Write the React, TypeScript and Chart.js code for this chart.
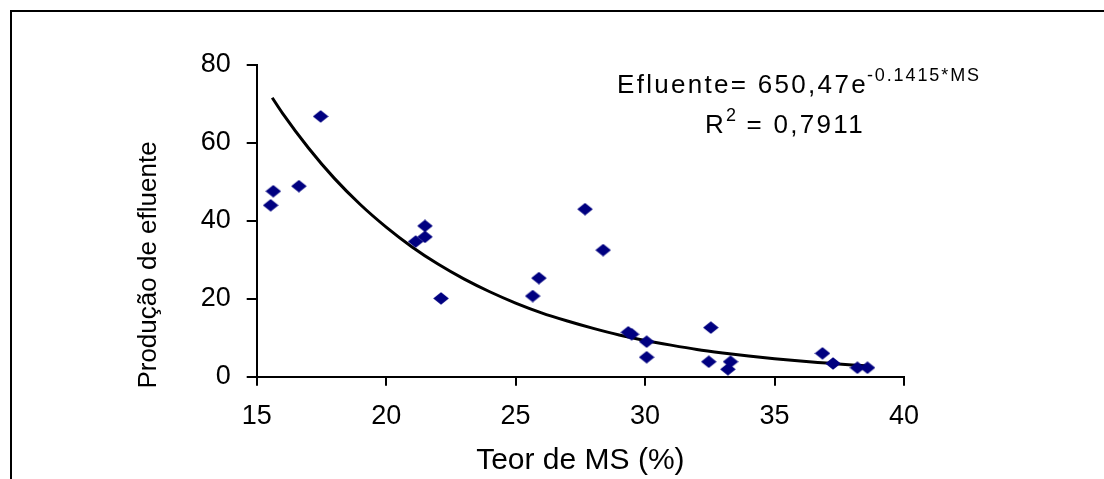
import { useEffect, useRef } from 'react';
import { Chart, registerables } from 'chart.js';

Chart.register(...registerables);

const msContent = [15.54, 15.64, 16.63, 17.47, 21.14, 21.5, 21.5, 22.12, 25.66, 25.9, 27.68, 28.38, 29.35, 29.48, 30.06, 30.06, 32.46, 32.54, 33.2, 33.3, 36.85, 37.26, 38.2, 38.59];
const effluent = [44.0, 47.6, 48.9, 66.8, 34.7, 35.9, 38.7, 20.1, 20.7, 25.3, 43.0, 32.5, 11.4, 10.9, 9.0, 5.0, 3.85, 12.6, 1.9, 3.85, 6.0, 3.4, 2.3, 2.3];

// Trend line
const trendMs = [15.6, 16, 17, 18, 19, 20, 21, 22, 23, 24, 25, 26, 27, 28, 29, 30, 31, 32, 33, 34, 35, 36, 37, 38, 38.5];
const trendEffluent = [71.6, 67.6, 58.7, 50.9, 44.2, 38.4, 33.3, 28.9, 25.1, 21.8, 18.9, 16.4, 14.3, 12.4, 10.7, 9.3, 8.1, 7.0, 6.1, 5.3, 4.6, 4.0, 3.5, 3.0, 2.8];

const xTicks = [15, 20, 25, 30, 35, 40];
const yTicks = [0, 20, 40, 60, 80];

const xTitle = 'Teor de MS (%)';
const yTitle = 'Produção de efluente';
const eqMain = 'Efluente= 650,47e';
const eqExp = '-0.1415*MS';
const r2Main = 'R';
const r2Sup = '2';
const r2Value = ' = 0,7911';

const FONT = '"Liberation Sans", Arial, sans-serif';
const W = 1104;
const H = 479;

function makeDiamond(): HTMLCanvasElement {
  const c = document.createElement('canvas');
  c.width = 16;
  c.height = 13;
  const g = c.getContext('2d')!;
  g.fillStyle = '#000080';
  g.beginPath();
  g.moveTo(8, 0.2);
  g.lineTo(15.8, 6.5);
  g.lineTo(8, 12.8);
  g.lineTo(0.2, 6.5);
  g.closePath();
  g.fill();
  return c;
}

const decorPlugin = {
  id: 'decor',
  afterDraw(chart: any) {
    const ctx: CanvasRenderingContext2D = chart.ctx;
    ctx.save();
    // outer frame (top and left edges visible)
    ctx.strokeStyle = '#000';
    ctx.lineWidth = 2;
    ctx.beginPath();
    ctx.moveTo(W, 11);
    ctx.lineTo(11, 11);
    ctx.lineTo(11, H);
    ctx.stroke();

    ctx.fillStyle = '#000';
    // y-axis title
    ctx.save();
    ctx.translate(149, 265);
    ctx.rotate(-Math.PI / 2);
    ctx.font = `26px ${FONT}`;
    ctx.textAlign = 'center';
    ctx.textBaseline = 'middle';
    ctx.fillText(yTitle, 0, 0);
    ctx.restore();

    // equation
    const anyCtx = ctx as any;
    ctx.textAlign = 'left';
    ctx.textBaseline = 'alphabetic';
    anyCtx.letterSpacing = '2.3px';
    ctx.font = `26px ${FONT}`;
    ctx.fillText(eqMain, 617, 93);
    const w1 = ctx.measureText(eqMain).width;
    anyCtx.letterSpacing = '1.9px';
    ctx.font = `18px ${FONT}`;
    ctx.fillText(eqExp, 617 + w1 - 1, 81);

    anyCtx.letterSpacing = '2.3px';
    ctx.font = `26px ${FONT}`;
    ctx.fillText(r2Main, 705, 133);
    const wr = ctx.measureText(r2Main).width;
    anyCtx.letterSpacing = '1.9px';
    ctx.font = `18px ${FONT}`;
    ctx.fillText(r2Sup, 705 + wr, 121);
    const ws = ctx.measureText(r2Sup).width;
    anyCtx.letterSpacing = '2.3px';
    ctx.font = `26px ${FONT}`;
    ctx.fillText(r2Value, 705 + wr + ws - 1, 133);
    anyCtx.letterSpacing = '0px';
    ctx.restore();
  },
};

export default function App() {
  const ref = useRef<HTMLCanvasElement>(null);

  useEffect(() => {
    if (!ref.current) return;
    const diamond = makeDiamond();
    const chart = new Chart(ref.current, {
      type: 'scatter',
      data: {
        datasets: [
          {
            label: 'Efluente',
            data: msContent.map((x, i) => ({ x, y: effluent[i] })),
            pointStyle: diamond as any,
            pointRadius: 7,
            backgroundColor: '#000080',
            borderWidth: 0,
          },
          {
            label: 'Tendência',
            data: trendMs.map((x, i) => ({ x, y: trendEffluent[i] })),
            showLine: true,
            borderColor: '#000',
            borderWidth: 3,
            pointRadius: 0,
            cubicInterpolationMode: 'monotone',
            fill: false,
          } as any,
        ],
      },
      options: {
        animation: false,
        responsive: false,
        devicePixelRatio: 1,
        layout: { padding: { left: 0, top: 65, right: 200, bottom: 0 } },
        plugins: { legend: { display: false }, tooltip: { enabled: false } },
        scales: {
          x: {
            type: 'linear',
            min: 15,
            max: 40,
            afterBuildTicks: (s: any) => {
              s.ticks = xTicks.map((v) => ({ value: v }));
            },
            afterFit: (s: any) => {
              s.height = H - 376.7;
            },
            grid: { drawOnChartArea: false, drawTicks: true, tickLength: 9, color: '#000', lineWidth: 2 },
            border: { display: true, color: '#000', width: 2 },
            ticks: { font: { family: FONT, size: 27 }, color: '#000', padding: 15, maxRotation: 0, autoSkip: false },
            title: { display: true, text: xTitle, font: { family: FONT, size: 30 }, color: '#000', padding: { top: 0, bottom: 0 } },
          },
          y: {
            type: 'linear',
            min: 0,
            max: 80,
            afterBuildTicks: (s: any) => {
              s.ticks = yTicks.map((v) => ({ value: v }));
            },
            afterFit: (s: any) => {
              s.width = 256.7;
            },
            grid: { drawOnChartArea: false, drawTicks: true, tickLength: 10, color: '#000', lineWidth: 2 },
            border: { display: true, color: '#000', width: 2 },
            ticks: { font: { family: FONT, size: 27 }, color: '#000', padding: 16, autoSkip: false },
          },
        },
      },
      plugins: [decorPlugin],
    });
    return () => chart.destroy();
  }, []);

  return (
    <div style={{ position: 'absolute', left: 0, top: 0, width: W, height: H, background: '#fff' }}>
      <canvas ref={ref} width={W} height={H} style={{ display: 'block' }} />
    </div>
  );
}
